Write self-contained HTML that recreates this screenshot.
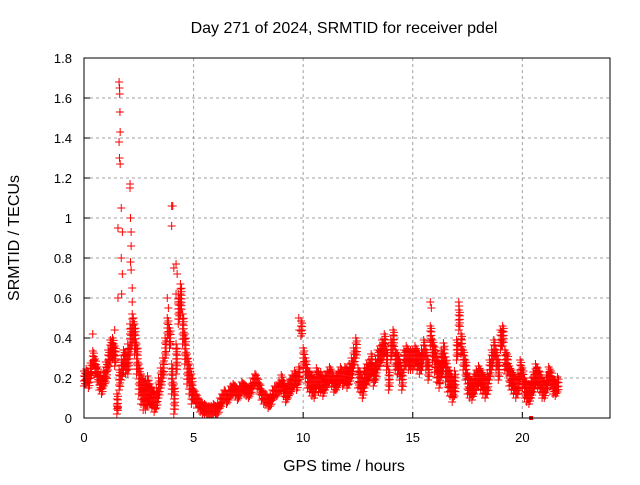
<!DOCTYPE html>
<html><head><meta charset="utf-8"><style>
body{margin:0;background:#fff;font-family:"Liberation Sans",sans-serif}
svg text{font-family:"Liberation Sans",sans-serif;font-size:13px;fill:#000}
svg text.big{font-size:16px}
</style></head><body>
<svg id="c" width="640" height="480">
<rect width="640" height="480" fill="#fff"/>
<text class="big" x="344" y="33" text-anchor="middle">Day 271 of 2024, SRMTID for receiver pdel</text>
<text class="big" x="344" y="471" text-anchor="middle">GPS time / hours</text>
<text class="big" transform="translate(19,238) rotate(-90)" text-anchor="middle">SRMTID / TECUs</text>
<g id="grid"></g><g id="pts"></g>
<rect x="84" y="58" width="526" height="360" fill="none" stroke="#000"/>
</svg>
<script>
const xTicks=[0,5,10,15,20];
const yTicks=[0,0.2,0.4,0.6,0.8,1,1.2,1.4,1.6,1.8];
const yTickLabels=["0","0.2","0.4","0.6","0.8","1","1.2","1.4","1.6","1.8"];
const sampleStart=0, sampleStep=0.1;
const vals=[.20,.21,.19,.24,.30,.26,.22,.18,.16,.20,
.24,.30,.35,.36,.32,.08,.20,.25,.30,.28,
.30,.40,.45,.40,.30,.20,.15,.12,.12,.14,
.12,.10,.08,.10,.15,.20,.25,.35,.45,.40,
.20,.10,.30,.55,.60,.45,.35,.25,.20,.15,
.12,.10,.08,.06,.05,.05,.04,.04,.04,.05,
.04,.05,.08,.10,.12,.10,.12,.14,.15,.14,
.12,.14,.16,.15,.14,.13,.15,.18,.20,.18,
.15,.12,.10,.10,.08,.09,.12,.14,.14,.16,
.18,.15,.12,.14,.16,.18,.20,.18,.22,.45,
.30,.25,.20,.18,.16,.15,.20,.18,.18,.16,
.18,.20,.22,.20,.17,.18,.20,.22,.20,.22,
.20,.22,.25,.30,.35,.20,.18,.15,.20,.22,
.25,.28,.22,.25,.30,.32,.35,.38,.30,.20,
.35,.40,.30,.28,.25,.20,.30,.32,.30,.30,
.30,.32,.30,.28,.30,.35,.30,.25,.42,.35,
.30,.25,.22,.28,.32,.25,.20,.18,.15,.18,
.35,.50,.38,.30,.25,.18,.16,.15,.18,.20,
.22,.20,.18,.16,.18,.25,.30,.35,.30,.25,
.40,.42,.30,.28,.22,.20,.18,.16,.18,.25,
.20,.15,.13,.12,.15,.18,.22,.20,.18,.15,
.14,.18,.22,.20,.16,.15,.17];
const hourSpread=[.04,.06,.08,.05,.08,.03,.03,.03,.03,.04,.05,.04,.05,.06,.06,.06,.07,.06,.06,.06,.05,.04];
const outT=[1.55,1.6,1.62,1.63,1.64,1.65,1.6,1.62,1.65,1.7,1.75,1.7,1.75,1.55,1.72,2.1,2.1,2.12,2.15,2.15,2.12,2.15,2.2,2.2,2.25,3.8,3.85,4.0,4.05,4.0,4.1,4.2,4.25,4.2,4.3,9.8,9.82,15.8,15.85,17.1,17.12,1.4,0.4,1.55,1.5];
const outV=[.95,1.68,1.65,1.62,1.53,1.43,1.38,1.30,1.27,1.05,.93,.80,.72,.60,.62,1.17,1.15,1.00,.93,.86,.78,.74,.65,.58,.50,.60,.55,1.06,1.06,.96,.75,.77,.72,.62,.58,.50,.44,.58,.55,.58,.56,.44,.42,.05,.06];
const X=t=>84+t*526/24, Y=v=>418-v*200;
const NS="http://www.w3.org/2000/svg";
const g=document.getElementById('grid'), p=document.getElementById('pts');
function mk(tag,at,parent){const e=document.createElementNS(NS,tag);for(const k in at)e.setAttribute(k,at[k]);parent.appendChild(e);return e;}
xTicks.forEach(t=>{
 const l=mk('line',{x1:X(t),x2:X(t),y1:58,y2:418,stroke:'#a0a0a0','stroke-dasharray':'3,3'},g);
 
 
 mk('line',{x1:X(t),x2:X(t),y1:418,y2:412,stroke:'#000'},g);
 const tx=mk('text',{x:X(t),y:442,'text-anchor':'middle'},g);tx.textContent=t;
 
 
});
yTicks.forEach((v,i)=>{
 const l=mk('line',{x1:84,x2:610,y1:Y(v),y2:Y(v),stroke:'#a0a0a0','stroke-dasharray':'3,3'},g);
 
 
 mk('line',{x1:84,x2:90,y1:Y(v),y2:Y(v),stroke:'#000'},g);
 const tx=mk('text',{x:72,y:Y(v)+5,'text-anchor':'end'},g);tx.textContent=yTickLabels[i];
 
 
});
let d='';
function plus(t,v){const x=X(t),y=Y(v);d+=`M${x-4},${y}h8M${x},${y-4}v8`;}
vals.forEach((v,i)=>{const t=sampleStart+i*sampleStep;const s=hourSpread[Math.min(hourSpread.length-1,Math.floor(t))];
 for(let o=-s;o<=s+1e-9;o+=0.025){plus(t,Math.max(0.02,v+o));plus(t+0.05,Math.max(0.02,v+o*0.7));}
});
outT.forEach((t,i)=>plus(t,outV[i]));
const path=mk('path',{d:d,stroke:'#ff0000','stroke-width':1,fill:'none'},p);


const sq=mk('rect',{x:X(20.4)-2,y:416,width:4,height:4,fill:'#ff0000'},p);


</script>
</body></html>
